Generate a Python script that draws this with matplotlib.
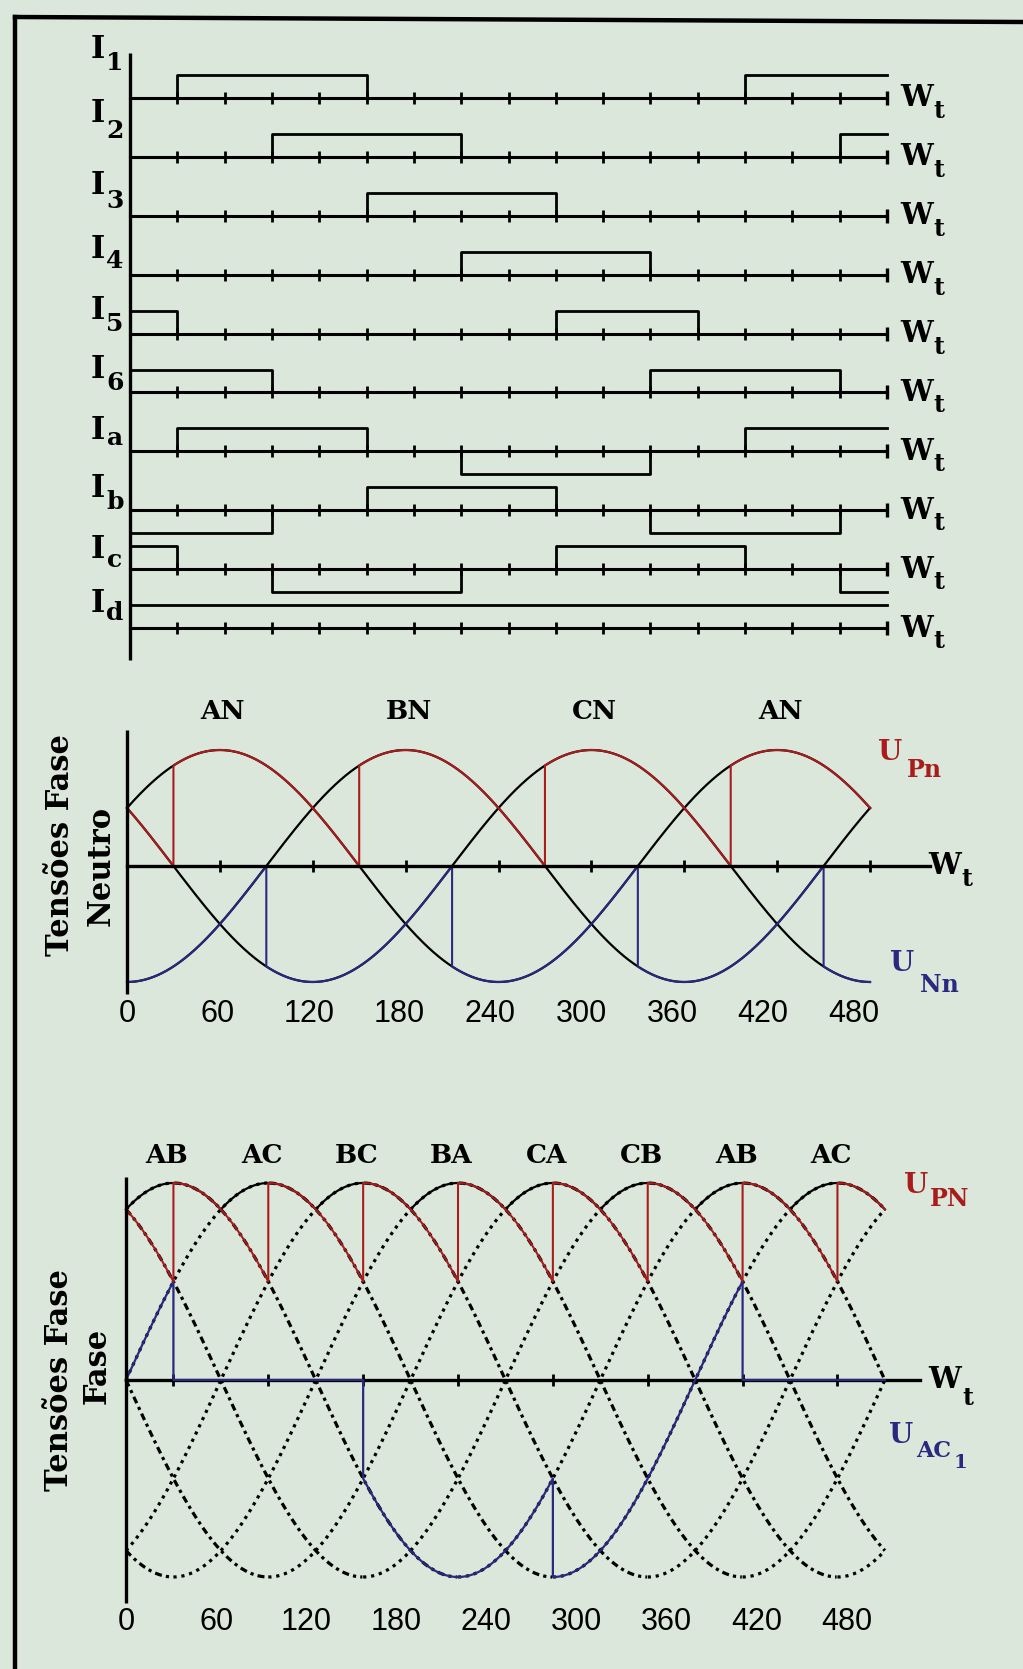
import numpy as np
import matplotlib
matplotlib.use('Agg')
import matplotlib.pyplot as plt

W_PX, H_PX = 1023, 1669
BG = '#dce7db'
RED = '#a81c1c'
BLUE = '#28297f'
SERIF = 'DejaVu Serif'

# ---- data ----
# gate / current pulse trains (start deg, end deg, level)
pulse_names = ['1', '2', '3', '4', '5', '6', 'a', 'b', 'c', 'd']
pulse_I1 = [(30, 150, 1), (390, 480, 1)]
pulse_I2 = [(90, 210, 1), (450, 480, 1)]
pulse_I3 = [(150, 270, 1)]
pulse_I4 = [(210, 330, 1)]
pulse_I5 = [(0, 30, 1), (270, 360, 1)]
pulse_I6 = [(0, 90, 1), (330, 450, 1)]
pulse_Ia = [(30, 150, 1), (210, 330, -1), (390, 480, 1)]
pulse_Ib = [(0, 90, -1), (150, 270, 1), (330, 450, -1)]
pulse_Ic = [(0, 30, 1), (90, 210, -1), (270, 390, 1), (450, 480, -1)]
pulse_Id = [(0, 480, 1)]
pulses = [pulse_I1, pulse_I2, pulse_I3, pulse_I4, pulse_I5,
          pulse_I6, pulse_Ia, pulse_Ib, pulse_Ic, pulse_Id]
pulse_ticks = list(range(30, 481, 30))

# phase-neutral voltages: angle of the peak of each phase (deg)
phase_peak = {'A': 60, 'B': 180, 'C': 300}
upn_segments = [(0, 30, 'C'), (30, 150, 'A'), (150, 270, 'B'), (270, 390, 'C'), (390, 480, 'A')]
unn_segments = [(0, 90, 'B'), (90, 210, 'C'), (210, 330, 'A'), (330, 450, 'B'), (450, 480, 'C')]
pn_labels = ['AN', 'BN', 'CN', 'AN']
pn_label_at = [60, 180, 300, 420]

# phase-phase voltages: angle of the peak of each line voltage (deg)
line_peak = {'AB': 30, 'AC': 90, 'BC': 150, 'BA': 210, 'CA': 270, 'CB': 330}
upN_segments = [(0, 30, 'CB'), (30, 90, 'AB'), (90, 150, 'AC'), (150, 210, 'BC'),
                (210, 270, 'BA'), (270, 330, 'CA'), (330, 390, 'CB'), (390, 450, 'AB'),
                (450, 480, 'AC')]
uac1_segments = [(0, 30, 'AC'), (30, 150, None), (150, 270, 'AB'), (270, 390, 'AC'),
                 (390, 480, None)]
pp_labels = ['AB', 'AC', 'BC', 'BA', 'CA', 'CB', 'AB', 'AC']
pp_label_at = [30, 90, 150, 210, 270, 330, 390, 450]

tick_values = [0, 60, 120, 180, 240, 300, 360, 420, 480]


def axes_at(fig, x0, sx, y0, sy, xlim, ylim):
    # place an axes so that data (0,0) lands on pixel (x0, y0)
    left = x0 + sx * xlim[0]
    right = x0 + sx * xlim[1]
    top = y0 - sy * ylim[1]
    bottom = y0 - sy * ylim[0]
    ax = fig.add_axes([left / W_PX, 1 - bottom / H_PX,
                       (right - left) / W_PX, (bottom - top) / H_PX])
    ax.set_xlim(xlim)
    ax.set_ylim(ylim)
    ax.axis('off')
    return ax


def wave(peak, t):
    return np.cos(np.radians(t - peak))


def segment_path(segments, peaks):
    xs, ys = [], []
    for s, e, key in segments:
        t = np.linspace(s, e, (e - s) * 2 + 1)
        xs.append(t)
        ys.append(np.zeros_like(t) if key is None else wave(peaks[key], t))
    return np.concatenate(xs), np.concatenate(ys)


def w_t(ax, xw, xt, y, dy):
    ax.text(xw, y, 'W', family=SERIF, weight='bold', fontsize=21, ha='center', va='center')
    ax.text(xt, y - dy, 't', family=SERIF, weight='bold', fontsize=17, ha='left', va='center')


fig = plt.figure(figsize=(W_PX / 100, H_PX / 100), dpi=100, facecolor=BG)

# frame
frame = fig.add_axes([0, 0, 1, 1])
frame.set_xlim(0, W_PX)
frame.set_ylim(H_PX, 0)
frame.axis('off')
frame.plot([15, 15], [17, H_PX], color='black', lw=3.2)
frame.plot([15, W_PX], [17, 22], color='black', lw=3.2)

# ---- top panel: pulse trains ----
row_h = 0.39
ax1 = axes_at(fig, 130, 757 / 480, 98, 58.9, (-5, 495), (-9.7, 0.9))
ax1.plot([0, 0], [0.76, -9.55], color='black', lw=2.4, solid_capstyle='butt')
lift_I = [49, 43, 30, 25, 23, 23, 21, 22, 20, 25]
lift_sub = [35, 26, 15, 14, 10, 10, 13, 8, 9, 15]
for k, (name, segs) in enumerate(zip(pulse_names, pulses)):
    base = -k
    ax1.plot([0, 480], [base, base], color='black', lw=2.2)
    ax1.plot(pulse_ticks[:-1], [base] * (len(pulse_ticks) - 1), ls='none',
             marker='|', ms=8, mew=2, color='black')
    ax1.plot([480], [base], ls='none', marker='|', ms=10, mew=2.4, color='black')
    for s, e, lvl in segs:
        xs, ys = [], []
        if s > 0:
            xs.append(s)
            ys.append(0)
        xs += [s, e]
        ys += [row_h * lvl, row_h * lvl]
        if e < 480:
            xs.append(e)
            ys.append(0)
        ax1.plot(xs, base + np.array(ys), color='black', lw=2.0)
    ax1.text(-20.5, base + lift_I[k] / 58.9, 'I', family=SERIF, weight='bold',
             fontsize=22, ha='center', va='center')
    ax1.text(-9.5, base + lift_sub[k] / 58.9, name, family=SERIF, weight='bold',
             fontsize=18, ha='center', va='center')
    w_t(ax1, 498.5, 509.5, base, 0.22)

# ---- middle panel: phase-neutral voltages ----
ax2 = axes_at(fig, 127, 1.548, 866, 116, (-5, 545), (-1.3, 1.5))
theta = np.linspace(0, 480, 961)
for p in phase_peak.values():
    ax2.plot(theta, wave(p, theta), color='black', lw=1.6)
x, y = segment_path(upn_segments, phase_peak)
ax2.plot(x, y, color=RED, lw=1.5)
x, y = segment_path(unn_segments, phase_peak)
ax2.plot(x, y, color=BLUE, lw=1.5)
ax2.plot([0, 519], [0, 0], color='black', lw=2.4)
ax2.plot([0, 0], [1.17, -1.1], color='black', lw=2.4, solid_capstyle='butt')
ax2.plot(tick_values[1:], [0] * 8, ls='none', marker='|', ms=8, mew=2, color='black')
for lab, at in zip(pn_labels, pn_label_at):
    ax2.text(at + 2, 1.33, lab, family=SERIF, weight='bold', fontsize=19,
             ha='center', va='center')
for v in tick_values:
    ax2.text(v * 0.978, -1.28, str(v), family='Liberation Sans', fontsize=22,
             ha='center', va='center')
w_t(ax2, 528, 539, 0.0, 0.11)
ax2.text(493, 0.98, 'U', family=SERIF, weight='bold', fontsize=20, color=RED,
         ha='center', va='center')
ax2.text(515, 0.83, 'Pn', family=SERIF, weight='bold', fontsize=17, color=RED,
         ha='center', va='center')
ax2.text(501, -0.84, 'U', family=SERIF, weight='bold', fontsize=20, color=BLUE,
         ha='center', va='center')
ax2.text(525, -1.03, 'Nn', family=SERIF, weight='bold', fontsize=17, color=BLUE,
         ha='center', va='center')
ax2.text(-43, 0.18, 'Tensões Fase', family=SERIF, weight='bold', fontsize=22,
         rotation=90, ha='center', va='center')
ax2.text(-17, 0.0, 'Neutro', family=SERIF, weight='bold', fontsize=22,
         rotation=90, ha='center', va='center')

# ---- bottom panel: phase-phase voltages ----
ax3 = axes_at(fig, 126, 1.581, 1380, 197, (-5, 545), (-1.3, 1.3))
for p in line_peak.values():
    v = wave(p, theta)
    rising = np.gradient(v) >= 0
    ax3.plot(theta, np.ma.masked_where(~rising, v), color='black', lw=2.3,
             ls=(0, (1, 1.5)))
    ax3.plot(theta, np.ma.masked_where(rising, v), color='black', lw=2.3,
             ls=(0, (2.2, 1.3, 1, 1.3)))
env = np.max([wave(p, theta) for p in line_peak.values()], axis=0)
ax3.plot(theta, env, color='black', lw=1.6)
ax3.plot([0, 502], [0, 0], color='black', lw=2.4)
ax3.plot(pp_label_at, [0] * len(pp_label_at), ls='none', marker='|',
         ms=8, mew=2, color='black')
x, y = segment_path(uac1_segments, line_peak)
ax3.plot(x, y, color=BLUE, lw=1.6)
x, y = segment_path(upN_segments, line_peak)
ax3.plot(x, y, color=RED, lw=1.5)
ax3.plot([0, 0], [1.03, -1.13], color='black', lw=2.4, solid_capstyle='butt')
for lab, at in zip(pp_labels, pp_label_at):
    ax3.text(at - 4, 1.14, lab, family=SERIF, weight='bold', fontsize=19,
             ha='center', va='center')
for v in tick_values:
    ax3.text(v * 0.95, -1.23, str(v), family='Liberation Sans', fontsize=22,
             ha='center', va='center')
w_t(ax3, 518, 529, 0.0, 0.09)
ax3.text(500, 0.985, 'U', family=SERIF, weight='bold', fontsize=20, color=RED,
         ha='center', va='center')
ax3.text(521, 0.92, 'PN', family=SERIF, weight='bold', fontsize=17, color=RED,
         ha='center', va='center')
ax3.text(490, -0.28, 'U', family=SERIF, weight='bold', fontsize=20, color=BLUE,
         ha='center', va='center')
ax3.text(511, -0.36, 'AC', family=SERIF, weight='bold', fontsize=16, color=BLUE,
         ha='center', va='center')
ax3.text(528, -0.42, '1', family=SERIF, weight='bold', fontsize=14, color=BLUE,
         ha='center', va='center')
ax3.text(-42, 0.0, 'Tensões Fase', family=SERIF, weight='bold', fontsize=22,
         rotation=90, ha='center', va='center')
ax3.text(-18, 0.07, 'Fase', family=SERIF, weight='bold', fontsize=22,
         rotation=90, ha='center', va='center')

fig.savefig('out.png', dpi=100, facecolor=BG)
